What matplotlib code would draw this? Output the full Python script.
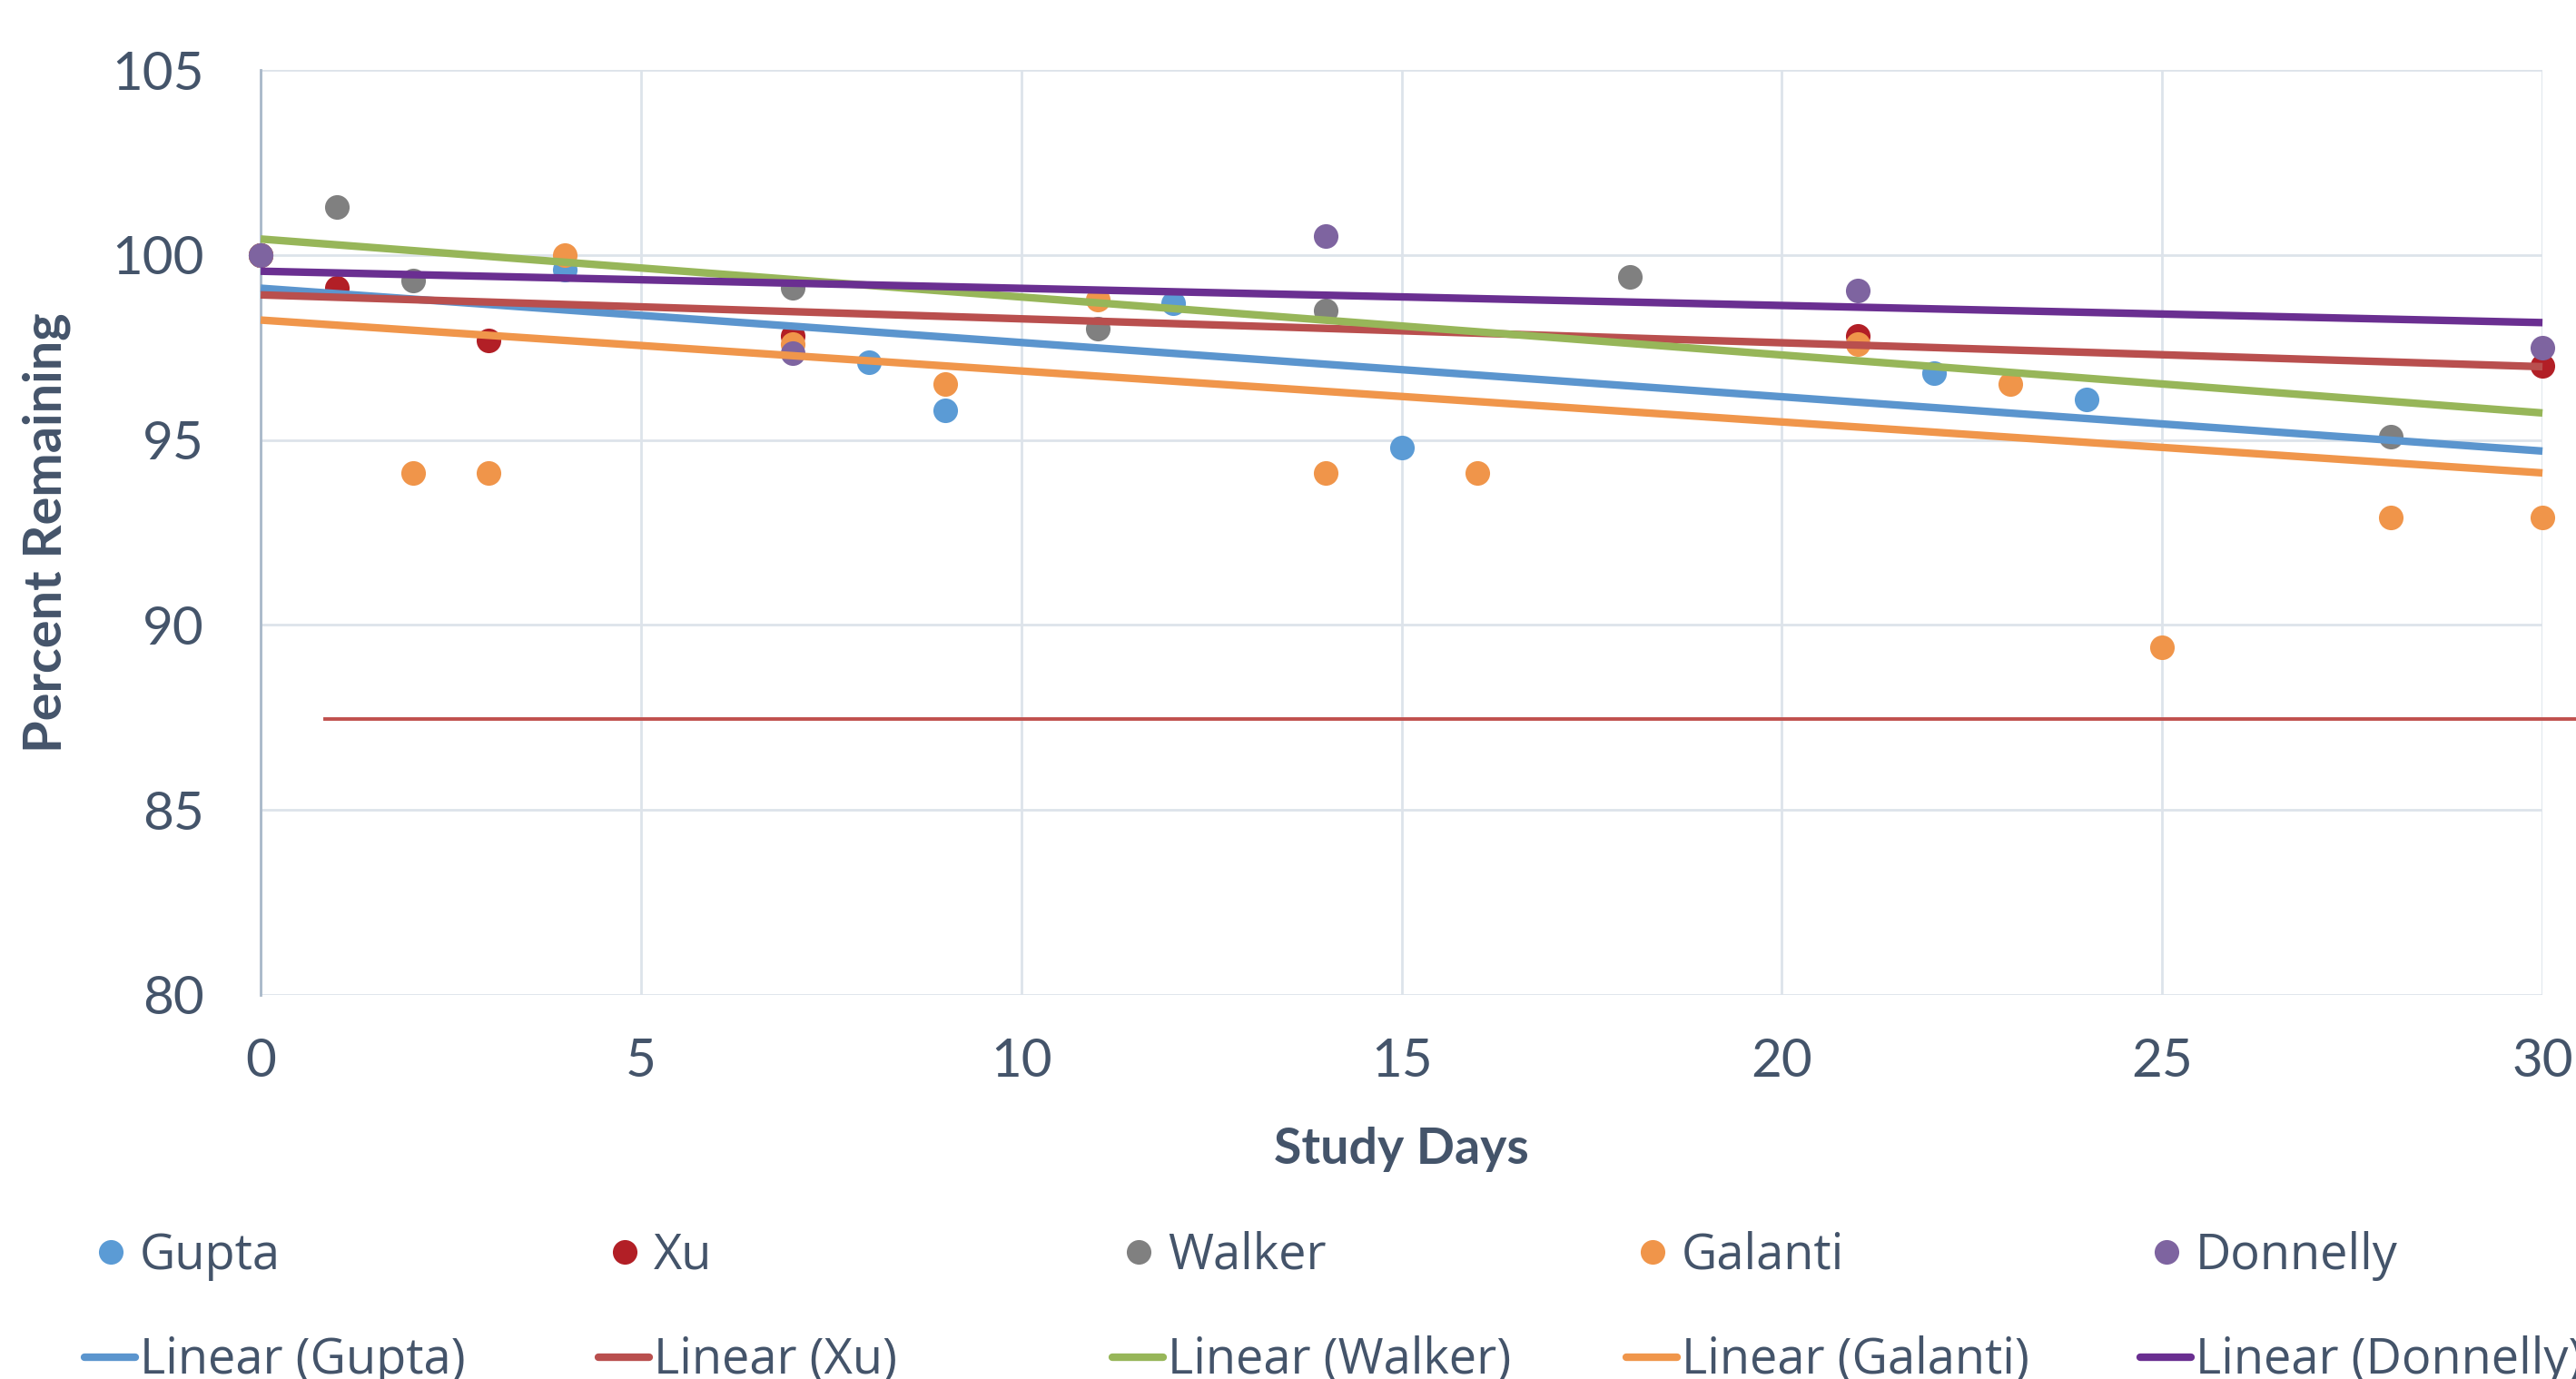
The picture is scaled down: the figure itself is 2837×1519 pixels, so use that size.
import numpy as np
import matplotlib.pyplot as plt
from matplotlib.lines import Line2D

plt.rcParams['font.family'] = ['Lato', 'DejaVu Sans']

# series (day, percent remaining)
names = ['Gupta', 'Xu', 'Walker', 'Galanti', 'Donnelly']

gupta_days = [0, 4, 8, 9, 12, 15, 22, 24]
gupta_pct = [100, 99.6, 97.1, 95.8, 98.7, 94.8, 96.8, 96.1]

xu_days = [0, 1, 3, 7, 21, 30]
xu_pct = [100, 99.1, 97.7, 97.8, 97.8, 97.0]

walker_days = [0, 1, 2, 7, 11, 14, 18, 28]
walker_pct = [100, 101.3, 99.3, 99.1, 98.0, 98.5, 99.4, 95.1]

galanti_days = [0, 2, 3, 4, 7, 9, 11, 14, 16, 21, 23, 25, 28, 30]
galanti_pct = [100, 94.1, 94.1, 100, 97.6, 96.5, 98.8, 94.1, 94.1, 97.6, 96.5, 89.4, 92.9, 92.9]

donnelly_days = [0, 7, 14, 21, 30]
donnelly_pct = [100, 97.35, 100.5, 99.05, 97.5]

# linear trendlines as shown (intercept at day 0, slope per day)
trend_intercept = [99.1, 98.92, 100.43, 98.24, 99.56]
trend_slope = [-0.1467, -0.0647, -0.1567, -0.1377, -0.0463]

# the stray horizontal line
ref_level = 87.45
ref_start = 0.85

x_ticks = [0, 5, 10, 15, 20, 25, 30]
y_ticks = [80, 85, 90, 95, 100, 105]

days = [gupta_days, xu_days, walker_days, galanti_days, donnelly_days]
pcts = [gupta_pct, xu_pct, walker_pct, galanti_pct, donnelly_pct]

marker_colors = ['#5B9BD5', '#B21F26', '#808080', '#F0954A', '#7E64A0']
trend_colors = ['#5B95CE', '#B94F4E', '#97B659', '#F0964B', '#6A2F91']
text_col = '#44546A'
grid_col = '#DDE3EA'

fig = plt.figure(figsize=(28.37, 15.19), dpi=100)
ax = fig.add_axes([0.1012, 0.2785, 0.9870 - 0.1012, 0.9493 - 0.2785])

for d, p, c in zip(days, pcts, marker_colors):
    ax.plot(d, p, 'o', color=c, markersize=19.5, markeredgewidth=0,
            clip_on=False, zorder=3)

xs = np.array([0, 30])
for b, m, c in zip(trend_intercept, trend_slope, trend_colors):
    ax.plot(xs, b + m * xs, color=c, lw=6, solid_capstyle='butt',
            clip_on=False, zorder=4)

ax.plot([ref_start, 31], [ref_level, ref_level], color='#C0504D', lw=2.8,
        clip_on=False, zorder=4)

ax.set_xlim(0, 30)
ax.set_ylim(80, 105)
ax.set_xticks(x_ticks)
ax.set_yticks(y_ticks)
ax.grid(True, color=grid_col, lw=2)
ax.set_axisbelow(True)
for s in ['top', 'right', 'bottom']:
    ax.spines[s].set_visible(False)
ax.spines['left'].set_color('#A9B8C9')
ax.spines['left'].set_linewidth(2)
ax.tick_params(axis='both', length=0, labelsize=42, colors=text_col)
ax.tick_params(axis='y', pad=45)
ax.tick_params(axis='x', pad=34)

ax.set_xlabel('Study Days', fontsize=40, fontweight='bold', color=text_col)
ax.xaxis.set_label_coords(0.5, -0.1668)
ax.xaxis.label.set_va('center')
ax.set_ylabel('Percent Remaining', fontsize=41.5, fontweight='bold', color=text_col)
ax.yaxis.set_label_coords(-0.0939, 0.5)
ax.yaxis.label.set_va('center')

# legend, laid out like Excel's: two rows, five even columns
W, H = 2837, 1519
col_x = [122 + 566 * i for i in range(5)]
row1_y, row1_base = 1379, 1398
row2_y, row2_base = 1495, 1513
leg_font = ['Open Sans', 'DejaVu Sans']
for i, nm in enumerate(names):
    cx = col_x[i]
    fig.add_artist(Line2D([cx / W], [1 - row1_y / H], marker='o', ls='',
                          color=marker_colors[i], markersize=19.5,
                          markeredgewidth=0, transform=fig.transFigure))
    fig.text((cx + 32) / W, 1 - row1_base / H, nm, fontsize=39,
             family=leg_font, color=text_col, va='baseline', ha='left')
    fig.add_artist(Line2D([(cx - 29) / W, (cx + 27) / W],
                          [1 - row2_y / H, 1 - row2_y / H], lw=6,
                          color=trend_colors[i], solid_capstyle='round',
                          transform=fig.transFigure))
    fig.text((cx + 32) / W, 1 - row2_base / H, 'Linear (' + nm + ')',
             fontsize=39, family=leg_font, color=text_col,
             va='baseline', ha='left')

fig.savefig('out.png', dpi=100)
